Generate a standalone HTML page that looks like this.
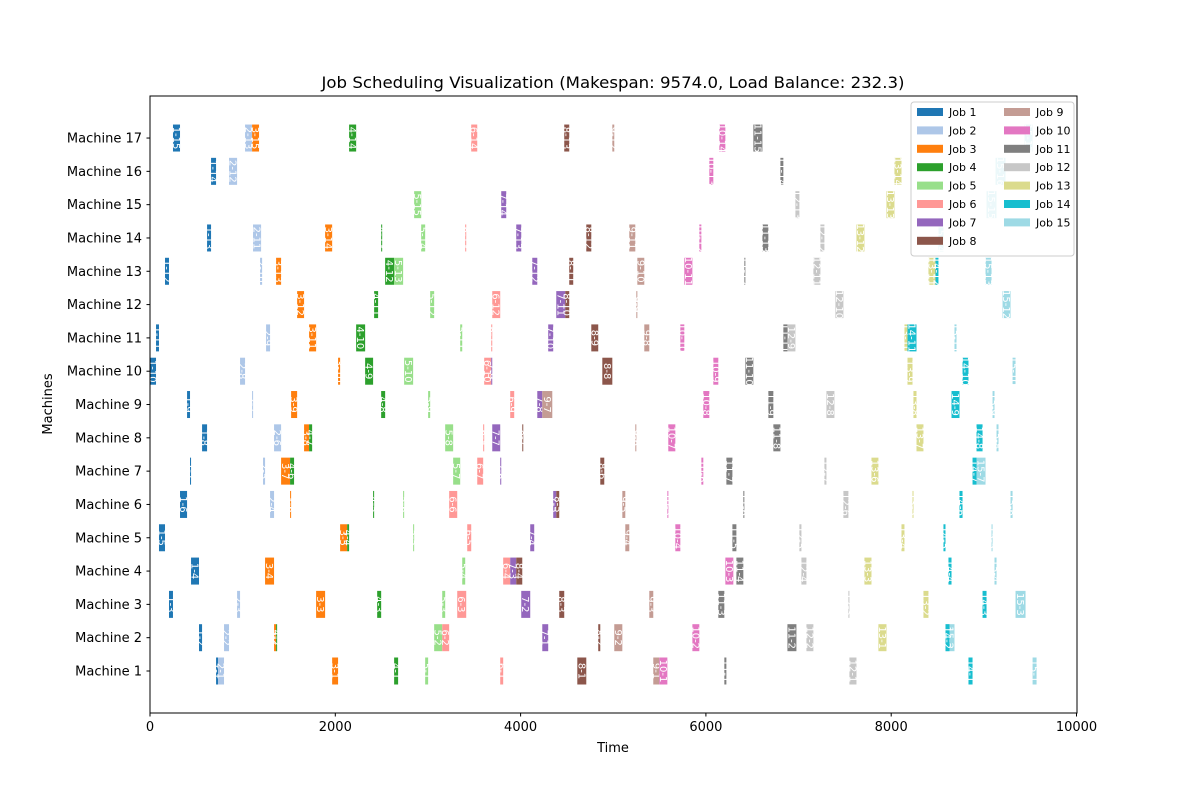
<!DOCTYPE html>
<html><head><meta charset="utf-8"><style>body{margin:0;background:#fff}svg{display:block;font-family:"DejaVu Sans","Liberation Sans",sans-serif}</style></head>
<body>
<svg id="chart" width="1200" height="800" xmlns="http://www.w3.org/2000/svg">
<text x="613" y="88" font-size="16" text-anchor="middle" textLength="583" lengthAdjust="spacingAndGlyphs">Job Scheduling Visualization (Makespan: 9574.0, Load Balance: 232.3)</text>
<g id="bars"></g>
<rect x="150" y="96" width="927" height="617" fill="none" stroke="#000" stroke-width="1"/>
<g id="axes"></g>
<text x="613" y="752" font-size="13" text-anchor="middle">Time</text>
<text x="0" y="0" font-size="13" text-anchor="middle" transform="translate(52,404) rotate(-90)">Machines</text>
<g id="legend"></g>
</svg>
<script>
const jobColors = ["#1f77b4","#aec7e8","#ff7f0e","#2ca02c","#98df8a","#ff9896","#9467bd","#8c564b","#c49c94","#e377c2","#7f7f7f","#c7c7c7","#dbdb8d","#17becf","#9edae5"];
const xTicks = [0,2000,4000,6000,8000,10000];
const machineNames = ["Machine 1","Machine 2","Machine 3","Machine 4","Machine 5","Machine 6","Machine 7","Machine 8","Machine 9","Machine 10","Machine 11","Machine 12","Machine 13","Machine 14","Machine 15","Machine 16","Machine 17"];
// tasks per machine: [job, start, end]
const m1 = [[1,713,734],[2,734,799],[3,1966,2030],[4,2635,2678],[5,2970,3002],[6,3780,3812],[8,4612,4709],[9,5432,5497],[10,5497,5584],[11,6199,6221],[12,7549,7625],[14,8834,8878],[15,9526,9569]];
const m2 = [[1,529,562],[2,799,853],[3,1339,1361],[4,1361,1372],[5,3067,3154],[6,3154,3229],[7,4234,4298],[8,4838,4860],[9,5011,5098],[10,5854,5929],[11,6880,6977],[12,7085,7160],[13,7862,7949],[15,8586,8683],[14,8586,8629]];
const m3 = [[1,205,248],[2,940,972],[3,1793,1890],[4,2452,2495],[5,3154,3186],[6,3316,3413],[7,4007,4104],[8,4417,4471],[9,5389,5432],[11,6134,6199],[12,7538,7549],[13,8348,8402],[14,8986,9029],[15,9342,9450]];
const m4 = [[1,443,529],[3,1242,1339],[5,3370,3402],[6,3812,3888],[7,3888,3953],[8,3953,4018],[10,6210,6296],[11,6329,6404],[12,7031,7085],[13,7711,7787],[14,8618,8651],[15,9115,9137]];
const m5 = [[1,97,162],[3,2052,2128],[4,2128,2149],[5,2840,2851],[6,3424,3467],[7,4104,4147],[9,5130,5173],[10,5670,5724],[11,6286,6329],[12,7009,7031],[13,8111,8143],[14,8564,8586],[15,9083,9094]];
const m6 = [[1,324,400],[2,1296,1339],[3,1512,1523],[4,2408,2419],[5,2732,2743],[6,3229,3316],[7,4352,4385],[8,4385,4417],[9,5098,5130],[10,5584,5594],[11,6404,6415],[12,7484,7538],[13,8230,8240],[14,8737,8770],[15,9288,9310]];
const m7 = [[1,432,443],[2,1220,1242],[3,1415,1512],[4,1512,1555],[5,3272,3348],[6,3532,3596],[7,3780,3791],[8,4860,4903],[10,5951,5972],[11,6221,6286],[12,7279,7301],[13,7787,7862],[14,8878,8921],[15,8921,9018]];
const m8 = [[1,562,616],[2,1339,1415],[3,1663,1717],[4,1717,1750],[5,3186,3272],[6,3596,3607],[7,3694,3780],[8,4018,4028],[9,5238,5249],[10,5594,5670],[11,6728,6804],[13,8273,8348],[14,8921,8986],[15,9137,9158]];
const m9 = [[1,400,432],[2,1102,1112],[3,1523,1588],[4,2495,2538],[5,3002,3024],[6,3888,3931],[7,4180,4234],[9,4234,4342],[10,5972,6037],[11,6674,6728],[12,7301,7387],[13,8240,8273],[14,8651,8737],[15,9094,9115]];
const m10 = [[1,0,65],[2,972,1026],[3,2030,2052],[4,2322,2408],[5,2743,2840],[6,3607,3683],[7,3683,3694],[8,4882,4990],[10,6080,6134],[11,6426,6512],[13,8176,8230],[14,8770,8834],[15,9310,9342]];
const m11 = [[1,65,97],[2,1253,1296],[3,1717,1793],[4,2225,2322],[5,3348,3370],[6,3683,3694],[7,4298,4352],[8,4763,4838],[9,5335,5389],[10,5724,5767],[11,6836,6880],[12,6880,6966],[13,8143,8176],[14,8176,8273],[15,8683,8705]];
const m12 = [[3,1588,1663],[4,2419,2462],[5,3024,3067],[6,3694,3780],[7,4385,4482],[8,4482,4525],[9,5249,5260],[12,7398,7484],[15,9202,9288]];
const m13 = [[1,162,205],[2,1188,1210],[3,1361,1415],[4,2538,2635],[5,2635,2732],[7,4126,4180],[8,4525,4568],[9,5260,5335],[10,5767,5854],[11,6415,6426],[12,7160,7236],[13,8402,8478],[14,8478,8510],[15,9018,9083]];
const m14 = [[1,616,659],[2,1112,1199],[3,1890,1966],[4,2495,2506],[5,2927,2970],[6,3402,3413],[7,3953,4007],[8,4709,4763],[9,5173,5238],[10,5929,5951],[11,6610,6674],[12,7236,7279],[13,7625,7711],[15,8510,8564]];
const m15 = [[5,2851,2927],[7,3791,3845],[12,6966,7009],[13,7949,8035],[15,9029,9137]];
const m16 = [[1,659,713],[2,853,940],[10,6037,6080],[11,6804,6836],[13,8035,8111],[15,9126,9234]];
const m17 = [[1,248,324],[2,1026,1102],[3,1102,1177],[4,2149,2225],[6,3467,3532],[8,4471,4525],[9,4990,5011],[10,6145,6210],[11,6512,6610],[15,9439,9526]];
const machineTasks = [m1,m2,m3,m4,m5,m6,m7,m8,m9,m10,m11,m12,m13,m14,m15,m16,m17];

const NS = "http://www.w3.org/2000/svg";
const X0 = 150, X1 = 1076.5;
function xs(t){ return X0 + (t/10000)*(X1-X0); }
function ys(m){ return 671 - (m-1)*33.31; }
function mk(tag, attrs, parent){ const e=document.createElementNS(NS,tag); for(const k in attrs) e.setAttribute(k,attrs[k]); parent.appendChild(e); return e; }

const bars = document.getElementById('bars');
const opCount = {};
machineTasks.forEach((tasks, mi) => {
  const m = mi+1;
  tasks.forEach(([job, s, e]) => {
    opCount[job] = (opCount[job]||0)+1;
    const x = xs(s), w = Math.max(1, xs(e)-xs(s)), yc = ys(m);
    const r = mk('rect',{x:x,y:yc-13.5,width:w,height:27,fill:jobColors[job-1]},bars);
    
    
    const t = mk('text',{x:0,y:0,'font-size':10,fill:'#fff','text-anchor':'middle',transform:`translate(${x+w/2-3.5},${yc}) rotate(90)`},bars);
    t.textContent = job + '-' + opCount[job];
    
    
  });
});

const axes = document.getElementById('axes');
xTicks.forEach(v => {
  const x = xs(v);
  const l = mk('line',{x1:x,x2:x,y1:713,y2:716.5,stroke:'#000'},axes);
  
  
  const t = mk('text',{x:x,y:731,'font-size':13,'text-anchor':'middle'},axes);
  t.textContent = v;
  
  
});
machineNames.forEach((n,i) => {
  const y = ys(i+1);
  const l = mk('line',{x1:146.5,x2:150,y1:y,y2:y,stroke:'#000'},axes);
  
  
  const t = mk('text',{x:142,y:y+4.5,'font-size':13,'text-anchor':'end'},axes);
  t.textContent = n;
  
  
});

const leg = document.getElementById('legend');
const box = mk('rect',{x:911,y:102,width:163,height:154,fill:'#fff','fill-opacity':0.8,stroke:'#ccc',rx:3},leg);


jobColors.forEach((c,i) => {
  const col = i < 8 ? 0 : 1, row = i < 8 ? i : i-8;
  const px = col ? 1004 : 917, py = 112 + row*18.4;
  const p = mk('rect',{x:px,y:py-4,width:26,height:8,fill:c},leg);
  
  
  const t = mk('text',{x:px+32,y:py+4,'font-size':11},leg);
  t.textContent = 'Job ' + (i+1);
  
  
});
</script>
</body></html>
